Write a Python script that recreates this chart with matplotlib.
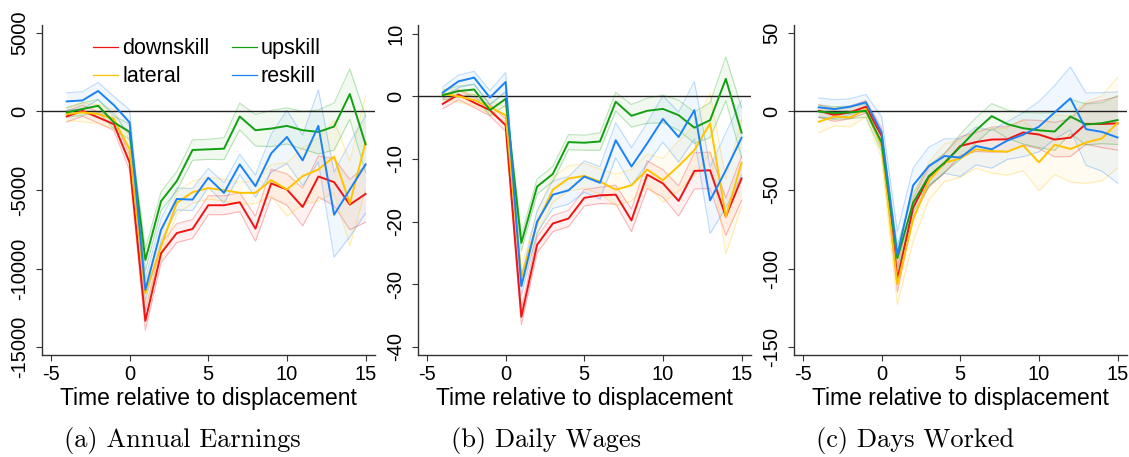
import matplotlib
matplotlib.use("Agg")
from matplotlib import pyplot as plt
import numpy as np

plt.rcParams["font.family"] = ["Liberation Sans", "DejaVu Sans"]
plt.rcParams["axes.unicode_minus"] = False

t = list(range(-4, 16))
groups = ["downskill", "lateral", "upskill", "reskill"]
colors = {"downskill": "#F01414", "lateral": "#FFC400", "upskill": "#12A012", "reskill": "#1A82F5"}

# (a) annual earnings
earn_down = [-320, 40, -380, -810, -3260, -13330, -9020, -7740, -7480, -5970, -5970, -5780, -7460, -4580, -4970, -6080, -4140, -4500, -5930, -5250]
earn_lat = [-170, -60, -170, -490, -2410, -11580, -8590, -5820, -5140, -4880, -5010, -5180, -5180, -4370, -4970, -4120, -3690, -2880, -5860, -1980]
earn_up = [-60, 150, 360, -700, -1300, -9450, -5710, -4430, -2455, -2412, -2370, -322, -1196, -1090, -919, -1196, -1303, -962, 1107, -2092]
earn_re = [640, 700, 1300, 400, -700, -11360, -7530, -5570, -5612, -4225, -5185, -3372, -4758, -2668, -1623, -3116, -919, -6571, -4972, -3372]
earn_down_ci = [350, 350, 350, 400, 500, 600, 600, 600, 600, 600, 600, 600, 800, 900, 1000, 1200, 1300, 1500, 1600, 1800]
earn_lat_ci = [400, 600, 600, 600, 600, 700, 700, 700, 700, 700, 700, 700, 700, 1000, 1700, 1800, 2000, 2300, 2700, 3000]
earn_up_ci = [300, 400, 400, 400, 500, 700, 600, 600, 650, 640, 700, 850, 1000, 1150, 1150, 1200, 1400, 1500, 1600, 1800]
earn_re_ci = [550, 550, 550, 550, 800, 700, 700, 700, 700, 600, 650, 650, 700, 1200, 1700, 1600, 2300, 2700, 3000, 3100]

# (b) daily wages
wage_down = [-1.2, 0.3, -1.0, -2.2, -4.6, -35.2, -23.7, -20.3, -19.5, -16.2, -15.8, -15.7, -19.8, -12.5, -13.9, -16.7, -11.9, -11.8, -19.2, -13.1]
wage_lat = [0.4, 0.0, -0.6, -1.7, -3.0, -28.8, -20.3, -14.9, -13.1, -12.7, -13.6, -14.9, -14.2, -11.7, -13.4, -11.1, -8.6, -4.3, -19.2, -10.6]
wage_up = [0.2, 0.85, 1.1, -2.2, -0.4, -23.4, -14.4, -12.4, -7.3, -7.4, -7.2, -0.85, -3.1, -2.3, -2.0, -3.0, -5.0, -3.8, 2.8, -5.8]
wage_re = [0.6, 2.4, 3.0, -0.2, 2.3, -30.3, -20.0, -15.7, -15.0, -12.8, -13.8, -7.0, -11.2, -7.5, -3.6, -6.5, -2.2, -16.6, -11.8, -6.6]
wage_down_ci = [0.8, 0.8, 0.8, 0.9, 1.0, 1.3, 1.3, 1.3, 1.3, 1.3, 1.3, 1.5, 1.8, 2.2, 2.2, 2.4, 2.9, 2.9, 3.0, 3.5]
wage_lat_ci = [0.8, 0.9, 0.9, 1.0, 1.2, 1.6, 1.8, 2.0, 2.0, 2.0, 2.0, 2.5, 2.5, 2.5, 3.5, 4.0, 4.0, 4.8, 6.0, 7.0]
wage_up_ci = [0.8, 0.8, 0.8, 0.9, 1.0, 1.3, 1.2, 1.2, 1.2, 1.2, 1.4, 1.5, 1.8, 2.0, 2.2, 2.4, 2.5, 2.8, 3.5, 4.0]
wage_re_ci = [0.9, 1.0, 1.0, 1.1, 1.5, 1.5, 1.8, 2.2, 2.2, 2.5, 2.6, 2.8, 3.0, 3.3, 3.7, 4.0, 4.6, 5.3, 6.0, 6.0]

# (c) days worked
days_down = [0.4, -2.3, -0.6, 3.0, -15.6, -107, -61.4, -41.6, -33, -22, -19.5, -17.9, -17.7, -13.4, -14.7, -17.9, -16.7, -7.9, -8.0, -7.6]
days_lat = [-6.6, -3.2, -3.8, 1.5, -22, -110, -68.9, -44.3, -32.6, -29.9, -24.1, -25.2, -25.6, -21.7, -32.4, -21.2, -23.9, -19.8, -17.2, -7.2]
days_up = [0, -1, -0.6, 0.4, -19.8, -93.4, -58.2, -41.2, -32.6, -22.5, -12, -3, -8.1, -10.7, -12, -12.8, -3.2, -8.3, -7.5, -5.5]
days_re = [2.6, 1.5, 3.0, 5.8, -13.4, -91.3, -47.1, -34.8, -28.4, -29.4, -22, -24.1, -18.5, -14.8, -9.7, -0.6, 8.3, -11.3, -13, -16.6]
days_down_ci = [4, 4, 4, 4, 5, 8, 6, 6, 6, 6, 6, 8, 8, 8, 9, 11, 12, 13, 15, 17]
days_lat_ci = [7, 6, 6, 5, 8, 13, 14, 12, 12, 12, 12, 14, 15, 16, 18, 19, 21, 26, 27, 29]
days_up_ci = [4, 4, 4, 4, 6, 8, 6, 7, 6, 8, 8, 8, 9, 10, 11, 12, 11, 13, 13, 15.5]
days_re_ci = [6, 6, 5, 5, 10, 15, 11, 12, 11, 12, 12, 12, 12, 14, 16, 17, 20, 23, 25, 29]

panels = [
    {"mean": [earn_down, earn_lat, earn_up, earn_re], "ci": [earn_down_ci, earn_lat_ci, earn_up_ci, earn_re_ci],
     "yticks": [5000, 0, -5000, -10000, -15000], "ylim": (-15500, 5500), "caption": "(a) Annual Earnings"},
    {"mean": [wage_down, wage_lat, wage_up, wage_re], "ci": [wage_down_ci, wage_lat_ci, wage_up_ci, wage_re_ci],
     "yticks": [10, 0, -10, -20, -30, -40], "ylim": (-41.3, 11.4), "caption": "(b) Daily Wages"},
    {"mean": [days_down, days_lat, days_up, days_re], "ci": [days_down_ci, days_lat_ci, days_up_ci, days_re_ci],
     "yticks": [50, 0, -50, -100, -150], "ylim": (-155, 55), "caption": "(c) Days Worked"},
]

W, H = 1129, 457
fig = plt.figure(figsize=(W / 100, H / 100), dpi=100)
axLefts = [42, 418, 794]
captionX = [182, 546, 915]

for k, p in enumerate(panels):
    ax = fig.add_axes([axLefts[k] / W, (H - 355) / H, 333 / W, 330 / H])
    for name, m, ci in zip(groups, p["mean"], p["ci"]):
        m = np.array(m, dtype=float)
        ci = np.array(ci, dtype=float)
        c = colors[name]
        ax.fill_between(t, m - ci, m + ci, color=c, alpha=0.06, linewidth=0, zorder=1)
        ax.plot(t, m - ci, color=c, alpha=0.28, lw=0.8, zorder=2)
        ax.plot(t, m + ci, color=c, alpha=0.28, lw=0.8, zorder=2)
    for name, m in zip(groups, p["mean"]):
        ax.plot(t, m, color=colors[name], lw=1.4, zorder=4, label=name)
    ax.axhline(0, color="#222222", lw=1.0, zorder=3)

    ax.set_xlim(-5.57, 15.6)
    ax.set_ylim(*p["ylim"])
    ax.set_xticks([-5, 0, 5, 10, 15])
    ax.set_yticks(p["yticks"])
    ax.set_yticklabels([str(v) for v in p["yticks"]], rotation=90, va="center")
    for s in ["top", "right"]:
        ax.spines[s].set_visible(False)
    for s in ["left", "bottom"]:
        ax.spines[s].set_color("#333333")
        ax.spines[s].set_linewidth(1.0)
    ax.tick_params(axis="both", labelsize=14.5, length=4, width=0.8, color="#333333")
    ax.tick_params(axis="x", pad=3)
    ax.tick_params(axis="y", pad=5)
    ax.set_xlabel("Time relative to displacement", fontsize=16.5, labelpad=2)

    fig.text(captionX[k] / W, (H - 440) / H, p["caption"], family="cmr10", fontsize=19, ha="center", va="center")

    if k == 0:
        handles, labels = ax.get_legend_handles_labels()
        leg = ax.legend(handles, labels, ncol=2, loc="upper left", bbox_to_anchor=(0.153, 0.96),
                        frameon=False, fontsize=15.5, handlelength=1.15, handletextpad=0.2,
                        labelspacing=0.32, columnspacing=1.05, borderpad=0, borderaxespad=0)
        for line in leg.get_lines():
            line.set_linewidth(0.9)

fig.savefig("out.png", dpi=100)
